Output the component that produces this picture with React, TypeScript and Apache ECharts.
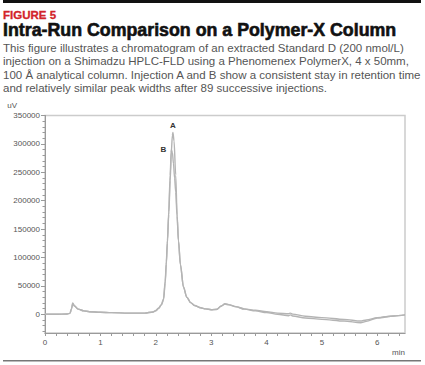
import React, { useEffect, useRef } from "react";
import * as echarts from "echarts";

// Injection A (minutes, uV)
const injectionA: [number, number][] = [
  [0, 0], [0.2, 0], [0.4, 500], [0.45, 1500], [0.48, 10000], [0.5, 20000], [0.53, 15000],
  [0.6, 9000], [0.7, 6000], [0.8, 4500], [1.0, 3500], [1.2, 2800], [1.5, 2000], [1.8, 2000],
  [1.95, 4000], [2.0, 6000], [2.05, 10000], [2.1, 16000], [2.14, 25000], [2.17, 55000],
  [2.19, 88000], [2.21, 125000], [2.234, 175000], [2.26, 235000], [2.28, 285000], [2.3, 315000],
  [2.31, 320000], [2.33, 305000], [2.36, 245000], [2.385, 175000], [2.41, 130000], [2.445, 88000],
  [2.5, 48000], [2.56, 30000], [2.63, 20500], [2.7, 15500], [2.81, 11500], [2.9, 9500], [3.0, 8000],
  [3.1, 8500], [3.18, 14000], [3.25, 18500], [3.32, 17000], [3.45, 13500], [3.6, 9500], [3.8, 7000],
  [4.0, 4500], [4.2, 2000], [4.4, 800], [4.43, 2000], [4.47, 300], [4.7, -3500], [5.0, -6000],
  [5.4, -9000], [5.7, -12000], [5.8, -10000], [6.0, -6000], [6.3, -3000], [6.5, -1000],
];

// Injection B (minutes, uV)
const injectionB: [number, number][] = [
  [0, 0], [0.2, 0], [0.4, 500], [0.45, 1500], [0.48, 10000], [0.5, 19000], [0.53, 14500],
  [0.6, 9000], [0.7, 6000], [0.8, 4500], [1.0, 3500], [1.2, 2800], [1.5, 2000], [1.8, 2000],
  [1.95, 4000], [2.0, 6500], [2.05, 11000], [2.1, 17000], [2.14, 27000], [2.17, 58000],
  [2.19, 92000], [2.21, 130000], [2.234, 180000], [2.26, 245000], [2.28, 290000], [2.3, 285000],
  [2.32, 265000], [2.34, 240000], [2.36, 215000], [2.385, 172000], [2.41, 128000], [2.445, 87000],
  [2.5, 48000], [2.56, 30000], [2.63, 20500], [2.7, 15500], [2.81, 11500], [2.9, 9500], [3.0, 8000],
  [3.1, 8800], [3.18, 14500], [3.25, 18000], [3.32, 16500], [3.45, 13000], [3.6, 9000], [3.8, 6000],
  [4.0, 3000], [4.2, 0], [4.4, -2500], [4.43, -1000], [4.47, -3000], [4.7, -6500], [5.0, -9000],
  [5.4, -12000], [5.7, -15000], [5.8, -12500], [6.0, -6500], [6.3, -3000], [6.5, -1000],
];

const yLabelValues = [0, 50000, 100000, 150000, 200000, 250000, 300000, 350000];
const yTickValues = [
  -30000, -20000, -10000, 0, 10000, 20000, 30000, 40000, 50000, 60000, 70000, 80000, 90000,
  100000, 110000, 120000, 130000, 140000, 150000, 160000, 170000, 180000, 190000, 200000,
  210000, 220000, 230000, 240000, 250000, 260000, 270000, 280000, 290000, 300000, 310000,
  320000, 330000, 340000, 350000,
];
const xLabelValues = [0, 1, 2, 3, 4, 5, 6];
const xTickValues = [
  0, 0.2, 0.4, 0.6, 0.8, 1, 1.2, 1.4, 1.6, 1.8, 2, 2.2, 2.4, 2.6, 2.8, 3, 3.2, 3.4, 3.6, 3.8,
  4, 4.2, 4.4, 4.6, 4.8, 5, 5.2, 5.4, 5.6, 5.8, 6, 6.2, 6.4,
];

const figureLabel = "FIGURE 5";
const heading = "Intra-Run Comparison on a Polymer-X Column";
const description = [
  "This figure illustrates a chromatogram of an extracted Standard D (200 nmol/L)",
  "injection on a Shimadzu HPLC-FLD using a Phenomenex PolymerX, 4 x 50mm,",
  "100 Å analytical column. Injection A and B show a consistent stay in retention time",
  "and relatively similar peak widths after 89 successive injections.",
];

const FONT = "'Liberation Sans', Arial, Helvetica, sans-serif";

export default function App() {
  const ref = useRef<HTMLDivElement>(null);
  useEffect(() => {
    document.body.style.margin = "0";
    const chart = echarts.init(ref.current!, undefined, { renderer: "svg" });
    const curveStyle = { color: "#b4b4b4", width: 1.4 };
    chart.setOption({
      animation: false,
      backgroundColor: "#ffffff",
      title: [
        {
          text: figureLabel, left: 3, top: 10, padding: 0,
          textStyle: { fontFamily: FONT, fontSize: 11.5, lineHeight: 10, fontWeight: "bold", color: "#d2232a",
            textBorderColor: "#d2232a", textBorderWidth: 0.3 },
        },
        {
          text: heading, left: 3, top: 22.5, padding: 0,
          textStyle: { fontFamily: FONT, fontSize: 17.8, lineHeight: 15, fontWeight: "bold", color: "#111111",
            textBorderColor: "#111111", textBorderWidth: 0.6 },
        },
        {
          text: description.join("\n"), left: 3, top: 41, padding: 0,
          textStyle: { fontFamily: FONT, fontSize: 11.5, fontWeight: "normal", color: "#555555", lineHeight: 13.4 },
        },
      ],
      graphic: [
        { type: "rect", shape: { x: 3, y: 0, width: 418, height: 3 }, style: { fill: "#111111" } },
        { type: "rect", shape: { x: 3, y: 360, width: 418, height: 1.5 }, style: { fill: "#777777" } },
      ],
      grid: {
        left: 45, right: 20, top: 115.5, bottom: 32,
        show: true, borderColor: "#cccccc", borderWidth: 1.5, backgroundColor: "transparent",
      },
      xAxis: {
        type: "value", min: 0, max: 6.5,
        name: "min", nameLocation: "end", nameGap: 0,
        nameTextStyle: { fontFamily: FONT, fontSize: 8, color: "#555555", align: "right", verticalAlign: "top", padding: [15, 0, 0, 0] },
        axisLine: { show: true, onZero: false, lineStyle: { color: "#9a9a9a", width: 1 } },
        axisTick: { show: true, customValues: xTickValues, length: 3, lineStyle: { color: "#9a9a9a" } },
        axisLabel: { customValues: xLabelValues, fontFamily: FONT, fontSize: 8, color: "#555555", margin: 5,
          formatter: (v: number) => String(v) },
        splitLine: { show: false },
      },
      yAxis: [
        {
          type: "value", min: -33000, max: 350000,
          name: "uV", nameLocation: "end", nameGap: 6,
          nameTextStyle: { fontFamily: FONT, fontSize: 8, color: "#555555", align: "right", padding: [0, 28, 0, 0] },
          axisLine: { show: true, onZero: false, lineStyle: { color: "#9a9a9a", width: 1 } },
          axisTick: { show: true, customValues: yTickValues, length: 2.5, lineStyle: { color: "#9a9a9a" } },
          axisLabel: { show: false },
          splitLine: { show: false },
        },
        {
          type: "value", min: -33000, max: 350000, position: "left",
          axisLine: { show: false, onZero: false },
          axisTick: { show: true, customValues: yLabelValues, length: 4, lineStyle: { color: "#9a9a9a" } },
          axisLabel: { customValues: yLabelValues, fontFamily: FONT, fontSize: 8, color: "#555555", margin: 5,
            formatter: (v: number) => String(v) },
          splitLine: { show: false },
        },
      ],
      series: [
        {
          name: "Injection A", type: "line", data: injectionA, yAxisIndex: 0,
          showSymbol: false, smooth: 0.3, smoothMonotone: "x", lineStyle: curveStyle,
          markPoint: {
            symbol: "circle", symbolSize: 0.01,
            label: { show: true, formatter: "A", position: "top", distance: 3, fontFamily: FONT, fontSize: 8, fontWeight: "bold", color: "#333333" },
            data: [{ coord: [2.31, 320000] }],
          },
        },
        {
          name: "Injection B", type: "line", data: injectionB, yAxisIndex: 0,
          showSymbol: false, smooth: 0.3, smoothMonotone: "x", lineStyle: curveStyle,
          markPoint: {
            symbol: "circle", symbolSize: 0.01,
            label: { show: true, formatter: "B", position: "left", distance: 5, fontFamily: FONT, fontSize: 8, fontWeight: "bold", color: "#333333" },
            data: [{ coord: [2.28, 290000] }],
          },
        },
      ],
    });
    return () => chart.dispose();
  }, []);
  return <div ref={ref} style={{ position: "absolute", left: 0, top: 0, width: 425, height: 365 }} />;
}
